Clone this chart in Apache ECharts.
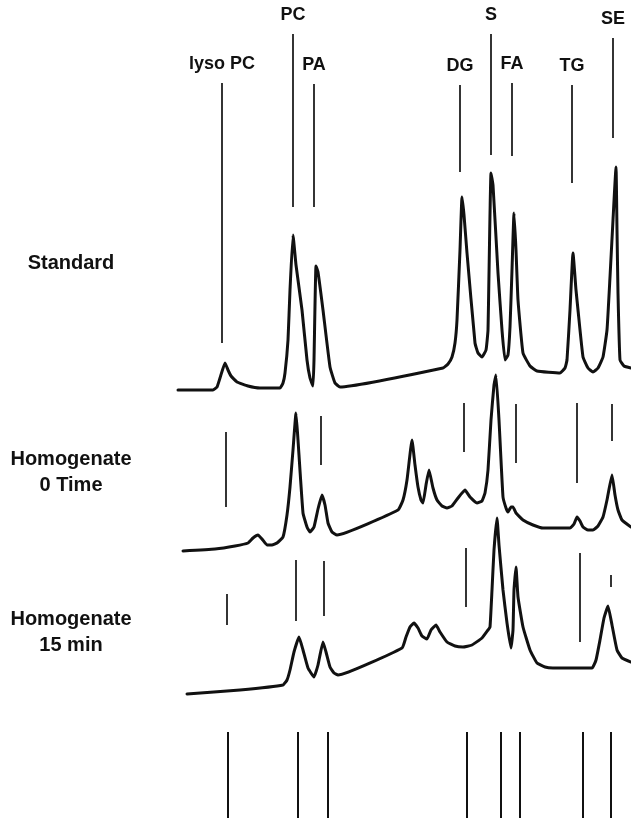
<!DOCTYPE html>
<html>
<head>
<meta charset="utf-8">
<script src="https://cdn.jsdelivr.net/npm/echarts@6/dist/echarts.min.js"></script>
<style>html,body{margin:0;padding:0;background:#fff}#c{width:631px;height:818px}</style>
</head>
<body>
<div id="c"></div>
<script>
// Peak names
const peakNames = ['lyso PC', 'PC', 'PA', 'DG', 'S', 'FA', 'TG', 'SE'];

// Standard trace [distance, response]
const standardTrace = [
  [0.4,85.6],[7.4,85.6],[8.2,86.2],[8.8,88.0],[9.8,91.0],[10.4,89.6],[11.0,88.4],[12.2,87.2],[14.4,86.4],[16.8,86.0],[20.8,86.0],
  [21.4,87.0],[21.8,89.0],[22.4,95.6],[22.8,105.6],[23.4,116.6],[24.0,110.6],[25.2,101.6],[26.2,91.6],[26.8,88.0],[27.4,86.4],
  [27.6,91.6],[28.0,110.4],[28.4,109.2],[29.4,101.6],[30.8,90.2],[31.8,87.0],[32.8,86.2],
  [53.4,90.0],[54.4,90.8],[55.2,92.2],[55.8,95.0],[56.2,99.6],[56.8,113.6],[57.2,124.2],[57.6,120.6],[58.2,113.0],[59.8,95.0],[60.4,93.0],
  [61.2,92.2],[62.0,93.6],[62.4,97.6],[63.0,129.0],[63.4,126.6],[64.4,109.0],[65.2,97.6],[65.8,91.6],[66.4,92.6],
  [66.8,98.2],[67.2,109.6],[67.6,121.0],[68.0,113.6],[68.4,103.6],[69.4,93.0],[70.8,90.4],[72.2,89.4],[76.8,89.0],
  [77.8,90.0],[78.2,91.6],[78.8,101.6],[79.4,113.0],[80.0,105.6],[80.4,101.6],[81.4,92.2],[82.4,90.0],[83.4,89.2],
  [84.4,90.0],[85.4,92.2],[86.2,97.6],[86.8,108.2],[87.4,119.6],[88.0,130.2],[88.2,117.6],[88.4,105.0],[88.8,91.6],
  [89.6,90.4],[91.0,90.0]
];

// Homogenate 0 time trace
const homog0Trace = [
  [1.4,53.4],[7.8,53.8],[11.8,54.4],[14.4,55.0],[15.4,56.0],[16.4,56.6],[17.2,55.8],[18.2,54.6],[19.2,54.6],
  [20.2,55.0],[21.4,56.2],[22.2,60.6],[22.8,66.2],[23.4,73.6],[24.0,81.0],[24.4,75.6],[25.4,61.0],[26.2,58.2],
  [26.8,57.2],[27.6,58.2],[28.4,61.8],[29.2,64.6],[29.8,62.6],[30.4,59.0],[31.2,57.2],[32.2,56.6],
  [44.4,61.6],[45.4,63.6],[46.2,67.6],[47.2,75.6],[47.8,70.6],[48.4,66.2],[49.0,63.6],[49.4,63.0],[50.0,66.6],
  [50.6,69.6],[51.4,66.0],[52.2,63.6],[53.2,62.4],[54.2,62.0],[55.2,62.4],[56.4,64.0],[57.8,65.6],[58.8,64.2],
  [60.2,63.0],[61.2,63.4],[61.8,65.0],[62.4,69.6],[63.0,79.6],[63.6,86.6],[64.0,88.6],[64.6,79.6],[65.4,64.2],
  [66.0,62.0],[66.4,61.2],[67.0,62.2],[67.4,62.2],[68.0,61.0],[69.4,59.6],[71.4,58.6],[73.4,58.0],[78.8,58.0],
  [79.6,58.8],[80.2,60.2],[80.8,59.4],[81.4,58.2],[82.4,57.6],[83.4,57.6],[84.4,58.4],[85.4,60.2],[86.2,63.6],
  [87.2,68.6],[87.8,64.6],[88.4,61.6],[89.2,59.6],[91.0,58.2]
];

// Homogenate 15 min trace
const homog15Trace = [
  [2.2,24.8],[12.8,25.6],[21.4,26.6],[22.2,27.6],[22.8,29.6],[23.6,33.2],[24.6,36.2],[25.4,33.6],[26.4,30.0],
  [27.6,28.2],[28.4,30.6],[29.4,35.2],[30.0,33.2],[30.8,30.2],[31.6,29.0],[32.4,28.6],
  [45.2,34.0],[46.0,36.2],[46.8,38.2],[47.6,39.0],[48.4,38.0],[49.2,36.4],[50.2,35.8],[51.0,37.6],[52.0,38.6],
  [52.8,37.2],[54.2,35.2],[55.8,34.4],[57.4,34.2],[59.2,34.6],[61.2,36.0],[62.4,37.6],[62.8,38.2],[63.2,45.6],
  [63.6,53.6],[64.2,60.0],[64.6,54.6],[65.4,45.6],[66.2,39.0],[67.0,34.0],[67.4,37.6],[67.6,45.6],[68.0,50.2],
  [68.4,44.2],[69.4,38.2],[70.8,33.6],[72.2,31.0],[73.8,30.2],[75.4,30.0],[83.2,30.0],[84.0,31.6],[84.8,35.6],
  [85.6,40.0],[86.4,42.4],[87.2,38.6],[88.2,33.6],[89.2,32.0],[91.0,31.2]
];

// Peak marker segments: x, top, bottom (one entry per peak name, null = absent)
const standardMarkX      = [9.2, 23.4, 27.6, 56.8, 63.0, 67.2, 79.2, 87.4];
const standardMarkTop    = [147.0, 156.8, 146.8, 146.6, 156.8, 147.0, 146.6, 156.0];
const standardMarkBottom = [95.0, 122.2, 122.2, 129.2, 132.6, 132.4, 127.0, 136.0];

const homog0MarkX      = [10.0, null, 29.0, 57.6, null, 68.0, 80.2, 87.2];
const homog0MarkTop    = [77.2, null, 80.4, 83.0, null, 82.8, 83.0, 82.8];
const homog0MarkBottom = [62.2, null, 70.6, 73.2, null, 71.0, 67.0, 75.4];

const homog15MarkX      = [10.2, 24.0, 29.6, 58.0, null, null, 80.8, 87.0];
const homog15MarkTop    = [44.8, 51.6, 51.4, 54.0, null, null, 53.0, 48.6];
const homog15MarkBottom = [38.6, 39.4, 40.4, 42.2, null, null, 35.2, 46.2];

const refMarkX      = [10.4, 24.4, 30.4, 58.2, 65.0, 68.8, 81.4, 87.0];
const refMarkTop    = [17.2, 17.2, 17.2, 17.2, 17.2, 17.2, 17.2, 17.2];
const refMarkBottom = [0, 0, 0, 0, 0, 0, 0, 0];

const sampleNames = ['Standard', 'Homogenate\n0 Time', 'Homogenate\n15 min'];

const INK = '#111';
const FONT = '"Liberation Sans", Arial, Helvetica, sans-serif';

const series = [];
[standardTrace, homog0Trace, homog15Trace].forEach(function (tr) {
  series.push({
    type: 'line', data: tr, symbol: 'none', smooth: 0.12, silent: true,
    lineStyle: { color: INK, width: 3, join: 'round', cap: 'round' }, z: 3
  });
});

function addMarks(xs, tops, bots, width) {
  xs.forEach(function (x, i) {
    if (x === null) return;
    series.push({
      type: 'line', data: [[x, tops[i]], [x, bots[i]]], symbol: 'none', silent: true,
      lineStyle: { color: INK, width: width }, z: 2
    });
  });
}
addMarks(standardMarkX, standardMarkTop, standardMarkBottom, 1.7);
addMarks(homog0MarkX, homog0MarkTop, homog0MarkBottom, 1.7);
addMarks(homog15MarkX, homog15MarkTop, homog15MarkBottom, 1.7);
addMarks(refMarkX, refMarkTop, refMarkBottom, 2);

// Peak name labels above the standard markers
series.push({
  type: 'scatter', symbolSize: 0, silent: true,
  itemStyle: { opacity: 1, color: INK },
  data: standardMarkX.map(function (x, i) { return { value: [x, standardMarkTop[i]], name: peakNames[i] }; }),
  label: {
    show: true, position: 'top', distance: 10, formatter: '{b}',
    color: INK, opacity: 1, fontFamily: FONT, fontWeight: 'bold', fontSize: 18
  }
});

const labelY = [263, 472, 632];
const chart = echarts.init(document.getElementById('c'), null, { renderer: 'canvas' });
chart.setOption({
  backgroundColor: '#fff',
  animation: false,
  grid: { left: 176, right: 0, top: 3, bottom: 0 },
  xAxis: { type: 'value', min: 0, max: 91, show: false },
  yAxis: { type: 'value', min: 0, max: 163, show: false },
  graphic: sampleNames.map(function (t, i) {
    return {
      type: 'text', x: 71, y: labelY[i],
      style: { text: t, fill: INK, font: 'bold 20px ' + FONT, textAlign: 'center', textVerticalAlign: 'middle', lineHeight: 26 }
    };
  }),
  series: series
});
</script>
</body>
</html>
